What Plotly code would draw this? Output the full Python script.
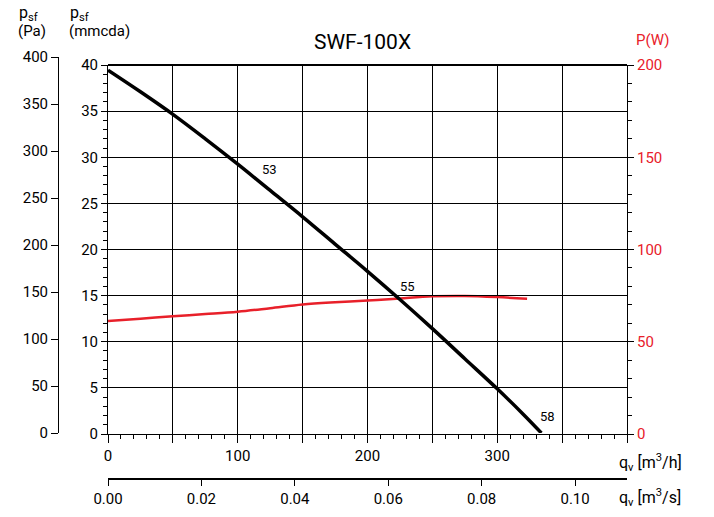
import plotly.graph_objects as go

# ---- data ----
flow_p = [0, 25, 50, 75, 100, 125, 150, 175, 200, 225, 250, 275, 300, 320, 334]          # m3/h
pressure_pa = [386, 363, 339, 313, 286, 258, 230, 201, 172, 142, 111, 79, 47, 20, 0]     # Pa

flow_w = [0, 25, 50, 75, 100, 125, 150, 175, 200, 225, 250, 275, 300, 323]              # m3/h
power_w = [61.2, 62.5, 63.8, 65.0, 66.3, 68.2, 70.2, 71.4, 72.3, 73.5, 74.6, 74.8, 74.2, 73.3]  # W

sound_labels = ["53", "55", "58"]
sound_flow = [124.6, 230.8, 338.5]
sound_pa = [280, 156, 18]

x_ticks = [0, 50, 100, 150, 200, 250, 300, 350, 400]
x_ticktext = ["0", "", "100", "", "200", "", "300", "", ""]
x2_ticks = [0.0, 0.02, 0.04, 0.06, 0.08, 0.10]
x2_ticktext = ["0.00", "0.02", "0.04", "0.06", "0.08", "0.10"]

FONT = "Roboto"
OFF = 8                      # page body margin
W, H = 714 - OFF, 517 - OFF
ML, MR, MT, MB = 32, 87, 49, 38
PW, PH = W - ML - MR, H - MT - MB


def px(x):
    return (x - OFF - ML) / PW


def py(y):
    return (H - MB - (y - OFF)) / PH


x_dom = [px(108), 1]
y_dom = [py(434), py(65)]
pa_dom = [py(433), 1]

fig = go.Figure()

# power curve (right axis)
fig.add_trace(go.Scatter(x=flow_w, y=power_w, mode="lines", xaxis="x", yaxis="y2",
                         line=dict(color="#e8202a", width=2.5, shape="spline"),
                         showlegend=False, hoverinfo="skip"))
# pressure curve on Pa axis
fig.add_trace(go.Scatter(x=flow_p, y=pressure_pa, mode="lines", xaxis="x3", yaxis="y3",
                         line=dict(color="black", width=3.5, shape="spline"),
                         showlegend=False, hoverinfo="skip"))
# carrier trace for m3/s axis
fig.add_trace(go.Scatter(x=[None], y=[None], xaxis="x2", yaxis="y", mode="lines",
                         showlegend=False, hoverinfo="skip"))

tickfont = dict(family=FONT, size=15, color="black")

fig.update_layout(
    width=W, height=H,
    margin=dict(l=ML, r=MR, t=MT, b=MB, autoexpand=False),
    paper_bgcolor="white", plot_bgcolor="rgba(0,0,0,0)",
    font=dict(family=FONT, color="black"),
    xaxis=dict(domain=x_dom, range=[0, 400], anchor="y",
               tickmode="array", tickvals=x_ticks, ticktext=x_ticktext,
               ticks="outside", ticklen=8, tickwidth=1, tickcolor="black",
               minor=dict(dtick=10, tick0=0, ticks="outside", ticklen=4, tickcolor="black", showgrid=False),
               showline=True, linecolor="black", linewidth=1,
               showgrid=True, gridcolor="black", gridwidth=1,
               zeroline=False, tickfont=tickfont),
    xaxis2=dict(overlaying="x", anchor="free", position=0, side="bottom",
                range=[0, 400 / 3600], tickmode="array", tickvals=x2_ticks, ticktext=x2_ticktext,
                ticks="outside", ticklen=6, tickcolor="black",
                showline=True, linecolor="black", linewidth=1.5,
                showgrid=False, zeroline=False, tickfont=tickfont),
    xaxis3=dict(domain=x_dom, range=[0, 400], anchor="y3", visible=False,
                showgrid=False, zeroline=False),
    yaxis=dict(domain=y_dom, range=[0, 40], anchor="x", dtick=5, tick0=0,
               ticks="outside", ticklen=6, tickcolor="black",
               minor=dict(dtick=1, tick0=0, ticks="outside", ticklen=4, tickcolor="black", showgrid=False),
               showline=True, linecolor="black", linewidth=1,
               showgrid=True, gridcolor="black", gridwidth=1,
               zeroline=False, tickfont=tickfont),
    yaxis2=dict(overlaying="y", side="right", anchor="x", range=[0, 200], dtick=50, tick0=0,
                ticks="outside", ticklen=6, tickcolor="black",
                minor=dict(dtick=10, tick0=0, ticks="outside", ticklen=4, tickcolor="black", showgrid=False),
                showline=True, linecolor="black", linewidth=1,
                showgrid=False, zeroline=False,
                tickfont=dict(family=FONT, size=15, color="#e8202a")),
    yaxis3=dict(domain=pa_dom, anchor="free", position=px(58), range=[0, 400], dtick=50, tick0=0,
                ticks="outside", ticklen=7, tickcolor="black",
                showline=True, linecolor="black", linewidth=1,
                showgrid=False, zeroline=False, tickfont=tickfont),
)

# top border of the plot area
fig.add_shape(type="line", xref="x domain", yref="y domain", x0=0, x1=1, y0=1, y1=1,
              line=dict(color="black", width=2))

ann = []


def add_text(text, x, y, size, color="black", xanchor="left"):
    ann.append(dict(text=text, x=px(x), y=py(y), xref="paper", yref="paper",
                    showarrow=False, font=dict(family=FONT, size=size, color=color),
                    xanchor=xanchor, yanchor="middle"))


add_text("SWF-100X", 362, 42, 21, xanchor="center")
add_text("P(W)", 652, 40, 15, color="#e8202a", xanchor="center")
add_text("p<sub>sf</sub>", 17, 13, 16)
add_text("(Pa)", 16, 31, 15)
add_text("p<sub>sf</sub>", 68, 13, 16)
add_text("(mmcda)", 67, 31, 15)
add_text("q<sub>v</sub> [m<sup>3</sup>/h]", 617, 462, 16)
add_text("q<sub>v</sub> [m<sup>3</sup>/s]", 617, 497, 16)

for t, fx, fy in zip(sound_labels, sound_flow, sound_pa):
    ann.append(dict(text=t, x=fx, y=fy, xref="x3", yref="y3", showarrow=False,
                    font=dict(family=FONT, size=13, color="black"), xanchor="center", yanchor="middle"))
fig.update_layout(annotations=ann)

fig.write_html("out.html")
